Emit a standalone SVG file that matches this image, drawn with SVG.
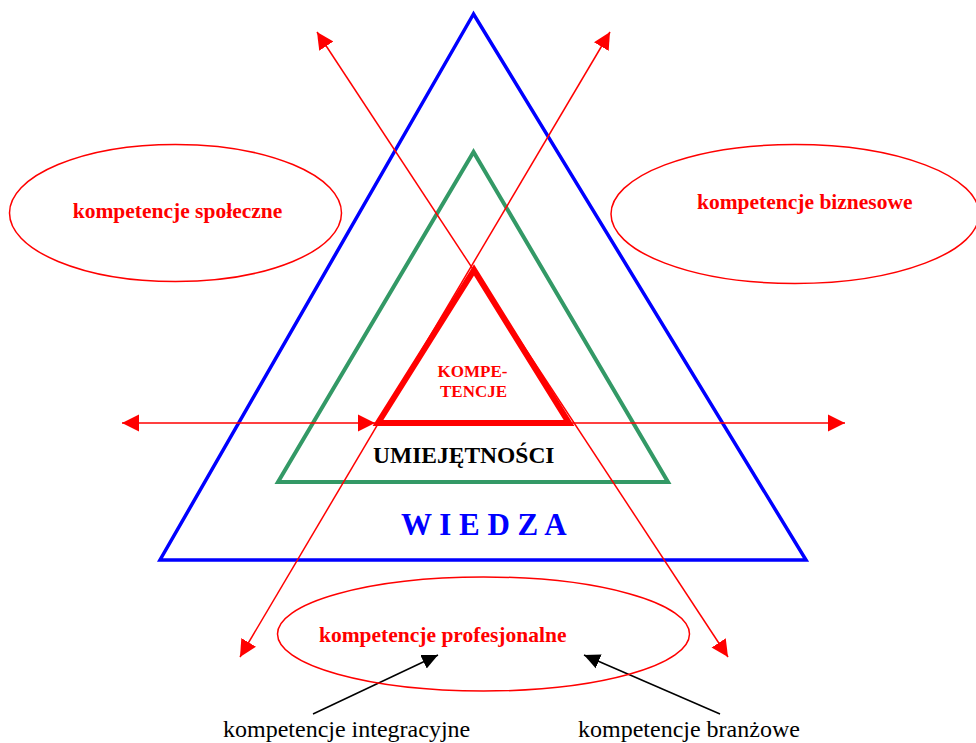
<svg xmlns="http://www.w3.org/2000/svg" width="976" height="743" viewBox="0 0 976 743">
<defs>
<marker id="ar" markerUnits="userSpaceOnUse" markerWidth="18" markerHeight="18" viewBox="0 0 18 18" refX="17" refY="9" orient="auto-start-reverse">
<path d="M0,0.5 L17,9 L0,17.5 z" fill="#ff0000"/>
</marker>
<marker id="ab" markerUnits="userSpaceOnUse" markerWidth="18" markerHeight="18" viewBox="0 0 18 18" refX="16" refY="8" orient="auto">
<path d="M0,0.5 L16,8 L0,15.5 z" fill="#000000"/>
</marker>
</defs>
<style>
.t{font-family:"Liberation Serif","Times New Roman",serif;}
.b{font-weight:bold;}
.red{fill:#ff0000;}
.ell{fill:none;stroke:#ff0000;stroke-width:1.5;}
.rl{stroke:#ff0000;stroke-width:1.5;fill:none;}
.bl{stroke:#000000;stroke-width:1.5;fill:none;}
</style>
<rect width="976" height="743" fill="#ffffff"/>
<g id="wiedza">
<polygon points="473.5,14 160,560 806,560" fill="none" stroke="#0000ff" stroke-width="3.5" stroke-linejoin="miter"/>
<text class="t b" x="401" y="535" font-size="31" fill="#0000ff" xml:space="preserve">W I E D Z A</text>
</g>
<g id="umiejetnosci">
<polygon points="473.5,152 278,482 668,482" fill="none" stroke="#339966" stroke-width="4" stroke-linejoin="miter"/>
<text class="t b" x="373" y="463" font-size="23.5" fill="#000000">UMIEJĘTNOŚCI</text>
</g>
<g id="connectors">
<line class="rl" x1="240" y1="657" x2="610" y2="32" marker-start="url(#ar)" marker-end="url(#ar)"/>
<line class="rl" x1="317" y1="32" x2="728" y2="657" marker-start="url(#ar)" marker-end="url(#ar)"/>
<line class="rl" x1="122" y1="423" x2="375" y2="423" marker-start="url(#ar)" marker-end="url(#ar)"/>
<line class="rl" x1="375" y1="423" x2="845" y2="423" marker-end="url(#ar)"/>
<line class="bl" x1="313" y1="714" x2="438" y2="655" marker-end="url(#ab)"/>
<line class="bl" x1="720" y1="714" x2="584" y2="655" marker-end="url(#ab)"/>
</g>
<g id="kompetencje">
<polygon points="474,270 378,423 569,423" fill="none" stroke="#ff0000" stroke-width="6" stroke-linejoin="miter"/>
<text class="t b red" x="472.5" y="377" font-size="17" text-anchor="middle">KOMPE-</text>
<text class="t b red" x="473.5" y="397" font-size="17" text-anchor="middle">TENCJE</text>
</g>
<g id="spoleczne">
<ellipse class="ell" cx="175.5" cy="213" rx="166" ry="68.5"/>
<text class="t b red" x="72.7" y="218" font-size="21.5">kompetencje społeczne</text>
</g>
<g id="biznesowe">
<ellipse class="ell" cx="795" cy="214" rx="184" ry="69.5"/>
<text class="t b red" x="697" y="209" font-size="21.5">kompetencje biznesowe</text>
</g>
<g id="profesjonalne">
<ellipse class="ell" cx="483.5" cy="634" rx="206" ry="57"/>
<text class="t b red" x="319" y="642" font-size="21.5">kompetencje profesjonalne</text>
</g>
<g id="integracyjne">
<text class="t" x="223" y="737" font-size="24" fill="#000000">kompetencje integracyjne</text>
</g>
<g id="branzowe">
<text class="t" x="578" y="737" font-size="24" fill="#000000">kompetencje branżowe</text>
</g>
</svg>
